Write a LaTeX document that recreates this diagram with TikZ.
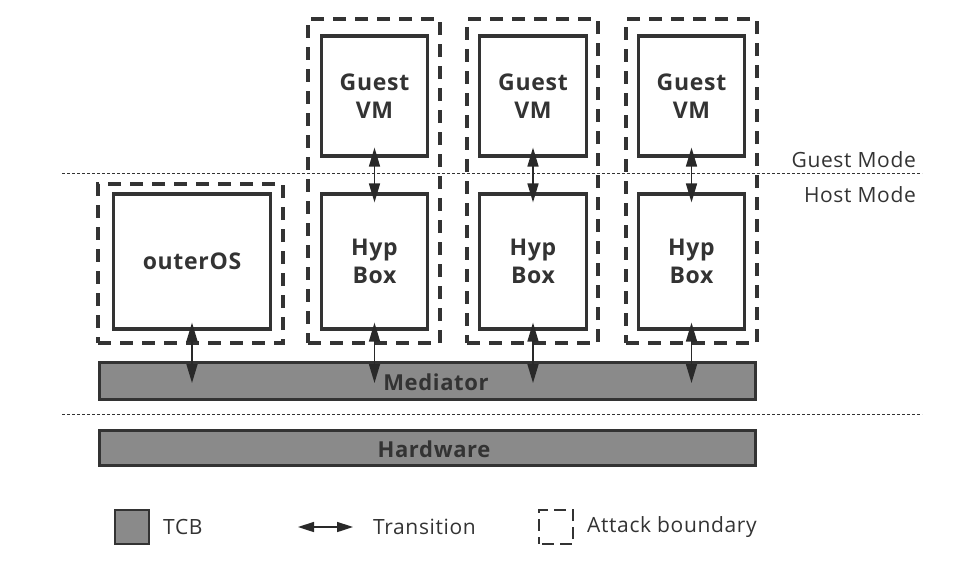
\documentclass[tikz,border=0pt]{standalone}
\usepackage{fontspec}
\setmainfont{Open Sans}
\usetikzlibrary{arrows.meta}
\definecolor{ln}{HTML}{333333}
\definecolor{tcb}{HTML}{8A8A8A}
\tikzset{
  box/.style={draw=ln, line width=3.2pt, fill=white, inner sep=0pt, align=center,
    font=\fontsize{23}{28}\selectfont\bfseries\addfontfeature{LetterSpace=3}, text=ln},
  bound/.style={draw=ln, line width=3.5pt, dash pattern=on 13pt off 9pt, inner sep=0pt},
  bar/.style={draw=ln, line width=3pt, fill=tcb, inner sep=0pt},
  barlabel/.style={font=\fontsize{22}{26}\selectfont\bfseries\addfontfeature{LetterSpace=3}, text=ln, inner sep=0pt},
  modeline/.style={draw=ln, line width=0.9pt, dash pattern=on 3pt off 2pt},
  modetext/.style={font=\fontsize{21}{25}\selectfont\addfontfeature{LetterSpace=3}, text=ln, inner sep=0pt, anchor=east},
  bigtip/.tip={Triangle[width=11pt,length=19pt]},
  smalltip/.tip={Triangle[width=10pt,length=16pt]},
  trans/.style={draw=ln!80!black, line width=1.6pt, bigtip-bigtip},
  legtext/.style={font=\fontsize{21}{25}\selectfont\addfontfeature{LetterSpace=3}, text=ln, inner sep=0pt, anchor=west},
}
\begin{document}
\begin{tikzpicture}[x=1pt,y=-1pt]
\useasboundingbox (0,0) rectangle (955,570);
% mode lines
\coordinate (gl1) at (62,173); \coordinate (gl2) at (922,173);
\coordinate (hl1) at (62,414); \coordinate (hl2) at (922,414);
\draw[modeline] (gl1) -- (gl2);
\draw[modeline] (hl1) -- (hl2);
\node[modetext] (gm) at (916,160) {Guest Mode};
\node[modetext] (hm) at (916,195) {Host Mode};
% attack boundaries
\node[bound, minimum width=185pt, minimum height=159pt] (b0) at (190.5,263.5) {};
\node[bound, minimum width=132pt, minimum height=324pt] (b1) at (374,181) {};
\node[bound, minimum width=131pt, minimum height=324pt] (b2) at (532.5,181) {};
\node[bound, minimum width=131pt, minimum height=324pt] (b3) at (691.5,181) {};
% bars
\node[bar, minimum width=656pt, minimum height=37pt] (med) at (427.5,381) {};
\node[bar, minimum width=656pt, minimum height=35pt] (hw) at (427.5,448) {};
% boxes
\node[box, minimum width=157pt, minimum height=135pt] (os) at (192,261.5) {outerOS};
\node[box, minimum width=106pt, minimum height=120pt] (g1) at (374.5,96) {Guest\\VM};
\node[box, minimum width=107pt, minimum height=120pt] (g2) at (533,96) {Guest\\VM};
\node[box, minimum width=106pt, minimum height=120pt] (g3) at (691.5,96) {Guest\\VM};
\node[box, minimum width=106pt, minimum height=135pt] (h1) at (374.5,261.5) {Hyp\\Box};
\node[box, minimum width=107pt, minimum height=135pt] (h2) at (533,261.5) {Hyp\\Box};
\node[box, minimum width=106pt, minimum height=135pt] (h3) at (691.5,261.5) {Hyp\\Box};
% transitions
\draw[trans] ([yshift=10pt]g1.south) -- ([yshift=-10pt]h1.north);
\draw[trans] ([yshift=10pt]g2.south) -- ([yshift=-10pt]h2.north);
\draw[trans] ([yshift=10pt]g3.south) -- ([yshift=-10pt]h3.north);
\coordinate (m0) at (os.south |- 0,383);
\coordinate (m1) at (h1.south |- 0,383);
\coordinate (m2) at (h2.south |- 0,383);
\coordinate (m3) at (h3.south |- 0,383);
\draw[trans] ([yshift=8pt]os.south) -- (m0);
\draw[trans] ([yshift=8pt]h1.south) -- (m1);
\draw[trans] ([yshift=8pt]h2.south) -- (m2);
\draw[trans] ([yshift=8pt]h3.south) -- (m3);
\node[barlabel] (medl) at (436,382) {Mediator};
\node[barlabel] (hwl) at (434,449) {Hardware};
% legend
\node[draw=ln, line width=2pt, fill=tcb, minimum width=34pt, minimum height=34pt, inner sep=0pt] (legtcb) at (132,527) {};
\node[legtext] (ltcb) at (163,527) {TCB};
\coordinate (la1) at (298,527); \coordinate (la2) at (353,527);
\draw[draw=ln!80!black, line width=1.6pt, smalltip-smalltip] (la1) -- (la2);
\node[legtext] (ltr) at (373,527) {Transition};
\node[draw=ln, line width=1.6pt, dash pattern=on 12pt off 6pt, dash phase=-3pt, minimum width=34pt, minimum height=34pt, inner sep=0pt] (legb) at (556,527) {};
\node[legtext] (lab) at (587,527) {Attack boundary};
\end{tikzpicture}
\end{document}
